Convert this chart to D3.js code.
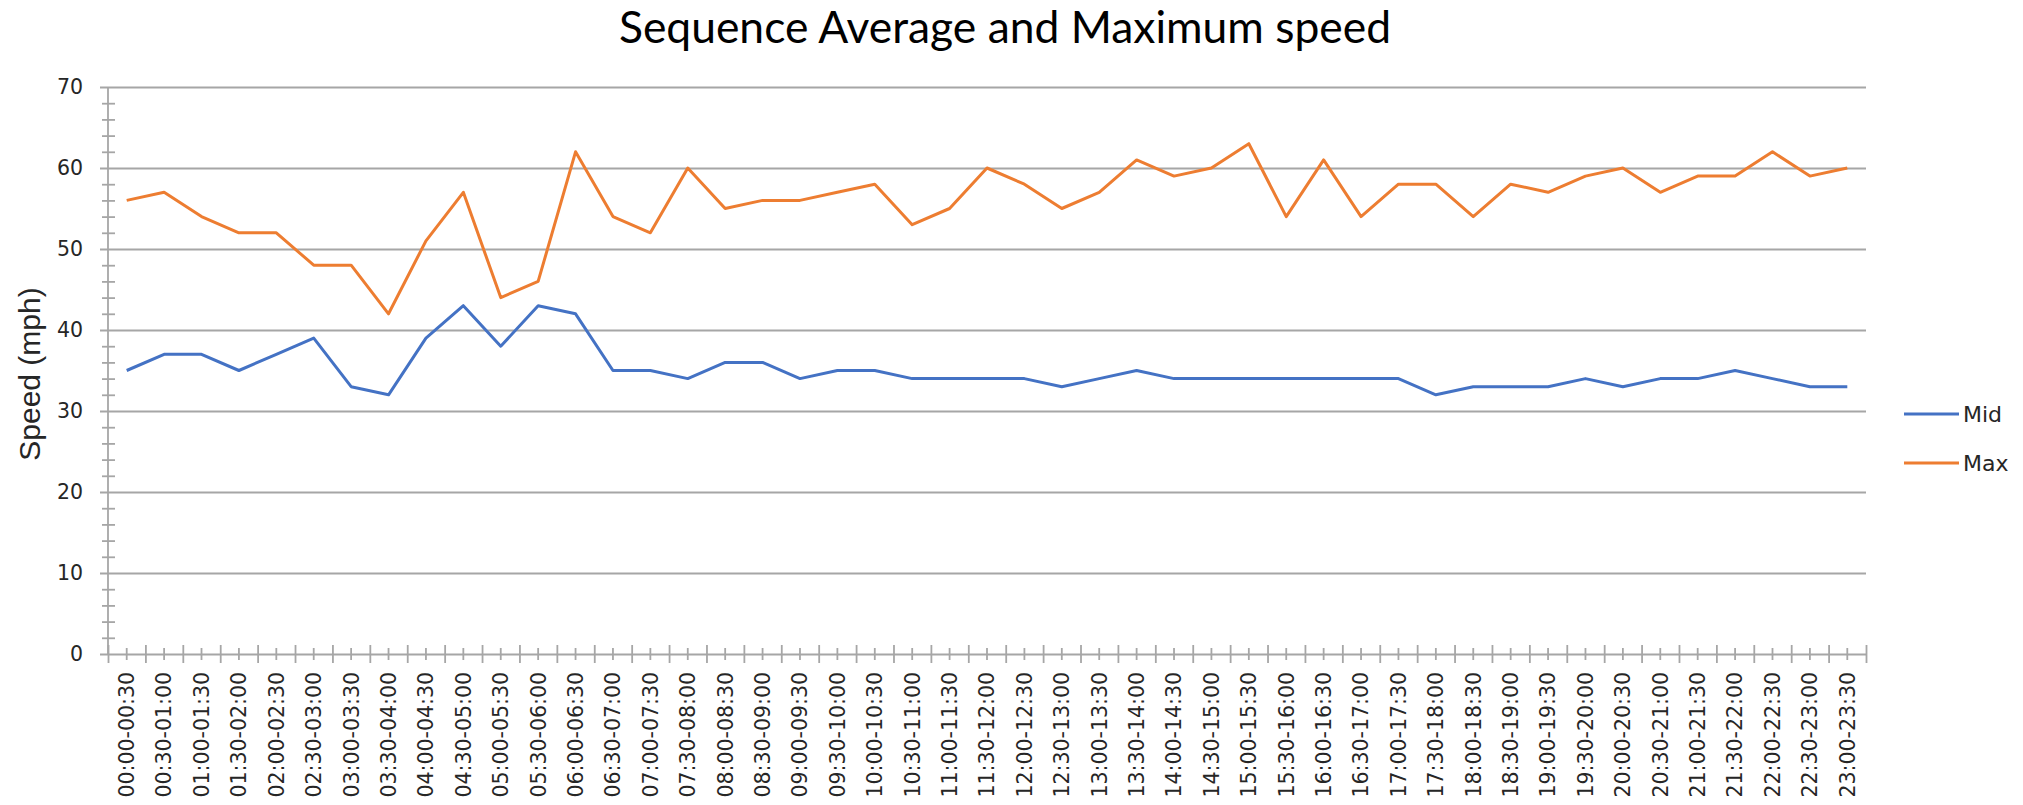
<!DOCTYPE html>
<html>
<head>
<meta charset="utf-8">
<script src="https://cdn.jsdelivr.net/npm/d3@7/dist/d3.min.js"></script>
<style>
  html, body { margin: 0; padding: 0; background: #fff; }
  svg { display: block; }
</style>
</head>
<body>
<svg id="chart" width="2023" height="805"></svg>
<script>
// Datos
var categories = [
  "00:00-00:30", "00:30-01:00", "01:00-01:30", "01:30-02:00", "02:00-02:30", "02:30-03:00",
  "03:00-03:30", "03:30-04:00", "04:00-04:30", "04:30-05:00", "05:00-05:30", "05:30-06:00",
  "06:00-06:30", "06:30-07:00", "07:00-07:30", "07:30-08:00", "08:00-08:30", "08:30-09:00",
  "09:00-09:30", "09:30-10:00", "10:00-10:30", "10:30-11:00", "11:00-11:30", "11:30-12:00",
  "12:00-12:30", "12:30-13:00", "13:00-13:30", "13:30-14:00", "14:00-14:30", "14:30-15:00",
  "15:00-15:30", "15:30-16:00", "16:00-16:30", "16:30-17:00", "17:00-17:30", "17:30-18:00",
  "18:00-18:30", "18:30-19:00", "19:00-19:30", "19:30-20:00", "20:00-20:30", "20:30-21:00",
  "21:00-21:30", "21:30-22:00", "22:00-22:30", "22:30-23:00", "23:00-23:30"
];
var midSpeed = [
  35, 37, 37, 35, 37, 39, 33, 32, 39, 43, 38, 43, 42, 35, 35, 34, 36, 36, 34, 35, 35, 34, 34, 34,
  34, 33, 34, 35, 34, 34, 34, 34, 34, 34, 34, 32, 33, 33, 33, 34, 33, 34, 34, 35, 34, 33, 33
];
var maxSpeed = [
  56, 57, 54, 52, 52, 48, 48, 42, 51, 57, 44, 46, 62, 54, 52, 60, 55, 56, 56, 57, 58, 53, 55, 60,
  58, 55, 57, 61, 59, 60, 63, 54, 61, 54, 58, 58, 54, 58, 57, 59, 60, 57, 59, 59, 62, 59, 60
];
var yTicks = [0, 10, 20, 30, 40, 50, 60, 70];
var seriesNames = ["Mid", "Max"];
var colors = ["#4472C4", "#ED7D31"];

var chartTitle = "Sequence Average and Maximum speed";
var yTitle = "Speed (mph)";

// Medidas del área de trazado
var plotLeft = 108, plotRight = 1866, plotTop = 87, plotBottom = 654;
var gridColor = "#a6a6a6";
var textColor = "#262626";
var tickFont = "'DejaVu Sans', Verdana, sans-serif";

var svg = d3.select("#chart");

var x = d3.scaleBand().domain(categories).range([plotLeft, plotRight]);
var xEdge = d3.scaleLinear().domain([0, categories.length]).range([plotLeft, plotRight]);
var y = d3.scaleLinear().domain([0, 70]).range([plotBottom, plotTop]);

// Líneas de cuadrícula + etiquetas del eje Y
var yAxis = svg.append("g")
  .attr("transform", "translate(" + plotLeft + ",0)")
  .call(d3.axisLeft(y).tickValues(yTicks).tickSize(-(plotRight - plotLeft)).tickPadding(25));
yAxis.select(".domain").remove();
yAxis.selectAll(".tick line")
  .attr("x1", -8)
  .attr("stroke", gridColor)
  .attr("stroke-width", 1.8);
yAxis.selectAll(".tick text")
  .attr("fill", textColor)
  .style("font-family", tickFont)
  .style("font-size", "20.5px");

// Marcas menores del eje Y (cruzan el eje)
var yMinor = d3.range(0, 71, 2).filter(function (v) { return v % 10 !== 0; });
var yMinorAxis = svg.append("g")
  .attr("transform", "translate(" + plotLeft + ",0)")
  .call(d3.axisLeft(y).tickValues(yMinor).tickSize(6).tickFormat(""));
yMinorAxis.select(".domain").remove();
yMinorAxis.selectAll(".tick line")
  .attr("x1", -6).attr("x2", 7)
  .attr("stroke", gridColor)
  .attr("stroke-width", 1.8);

// Línea vertical del eje Y
svg.append("line")
  .attr("x1", plotLeft).attr("x2", plotLeft)
  .attr("y1", plotTop).attr("y2", plotBottom + 1)
  .attr("stroke", gridColor)
  .attr("stroke-width", 1.8);

// Marcas principales del eje X (entre categorías)
var xMajor = svg.append("g")
  .attr("transform", "translate(0," + plotBottom + ")")
  .call(d3.axisBottom(xEdge).tickValues(d3.range(0, categories.length + 1)).tickSize(9).tickFormat(""));
xMajor.select(".domain").remove();
xMajor.selectAll(".tick line")
  .attr("y1", -9).attr("y2", 9)
  .attr("stroke", gridColor)
  .attr("stroke-width", 1.8);

// Marcas menores + etiquetas del eje X
var xAxis = svg.append("g")
  .attr("transform", "translate(0," + plotBottom + ")")
  .call(d3.axisBottom(x).tickSize(6));
xAxis.select(".domain").remove();
xAxis.selectAll(".tick line")
  .attr("y1", -6).attr("y2", 6)
  .attr("stroke", gridColor)
  .attr("stroke-width", 1.8);
xAxis.selectAll(".tick text")
  .attr("transform", "rotate(-90)")
  .attr("text-anchor", "end")
  .attr("x", -18)
  .attr("y", 0)
  .attr("dy", "0.36em")
  .attr("fill", textColor)
  .style("font-family", tickFont)
  .style("font-size", "20.5px");

// Series
var line = d3.line()
  .x(function (d, i) { return x(categories[i]) + x.bandwidth() / 2; })
  .y(function (d) { return y(d); });

[midSpeed, maxSpeed].forEach(function (serie, i) {
  svg.append("path")
    .datum(serie)
    .attr("fill", "none")
    .attr("stroke", colors[i])
    .attr("stroke-width", 3)
    .attr("stroke-linejoin", "round")
    .attr("d", line);
});

// Leyenda
var legend = svg.selectAll(".legend")
  .data(seriesNames)
  .enter()
  .append("g")
  .attr("class", "legend")
  .attr("transform", function (d, i) { return "translate(1904," + (414 + i * 49) + ")"; });

legend.append("line")
  .attr("x1", 0).attr("x2", 55)
  .attr("stroke", function (d, i) { return colors[i]; })
  .attr("stroke-width", 3);

legend.append("text")
  .attr("x", 59)
  .attr("dy", "0.36em")
  .attr("fill", textColor)
  .style("font-family", tickFont)
  .style("font-size", "22px")
  .text(function (d) { return d; });

// Título del eje Y
svg.append("text")
  .attr("transform", "translate(40,374) rotate(-90)")
  .attr("text-anchor", "middle")
  .attr("fill", textColor)
  .style("font-family", "'Liberation Sans', Arial, sans-serif")
  .style("font-size", "30px")
  .text(yTitle);

// Título
var title = svg.append("text")
  .attr("x", 1005)
  .attr("y", 43)
  .attr("text-anchor", "middle")
  .attr("fill", "#000")
  .style("font-family", "Lato, 'Open Sans', sans-serif")
  .style("font-size", "44px")
  .text(chartTitle);
// ajustar el tamaño al ancho del original (~772px)
var w = title.node().getComputedTextLength();
title.style("font-size", (44 * 772 / w).toFixed(1) + "px");
</script>
</body>
</html>
